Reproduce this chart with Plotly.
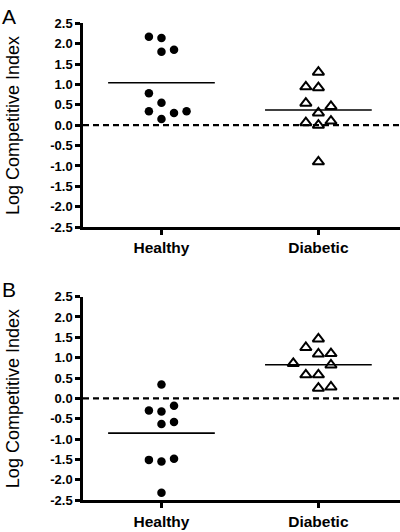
import plotly.graph_objects as go

categories = ["Healthy", "Diabetic"]
# Panel A
a_healthy = [2.17, 2.14, 1.80, 1.85, 0.78, 0.55, 0.34, 0.15, 0.30, 0.34]
a_healthy_off = [-1, 0, 0, 1, -1, 0, -1, 0, 1, 2]
a_diabetic = [1.30, 0.94, 0.92, 0.54, 0.46, 0.30, 0.06, 0.00, 0.10, -0.90]
a_diabetic_off = [0, -1, 0, -1, 1, 0, -1, 0, 1, 0]
# Panel B
b_healthy = [0.34, -0.30, -0.32, -0.18, -0.63, -0.58, -1.51, -1.55, -1.48, -2.32]
b_healthy_off = [0, -1, 0, 1, 0, 1, -1, 0, 1, 0]
b_diabetic = [1.46, 1.25, 1.09, 1.10, 0.86, 0.82, 0.58, 0.58, 0.25, 0.28]
b_diabetic_off = [0, -1, 0, 1, -2, 1, -1, 0, 0, 1]

y_tickvals = [2.5, 2.0, 1.5, 1.0, 0.5, 0.0, -0.5, -1.0, -1.5, -2.0, -2.5]
y_ticktext = ["2.5", "2.0", "1.5", "1.0", "0.5", "0.0", "-0.5", "-1.0", "-1.5", "-2.0", "-2.5"]
panel_labels = ["A", "B"]
y_title = "Log Competitive Index"

STEP = 0.08
HALF = 0.34
FONT = "Liberation Sans, Arial, sans-serif"

fig = go.Figure()

panels = [
    (a_healthy, a_healthy_off, a_diabetic, a_diabetic_off, "x", "y"),
    (b_healthy, b_healthy_off, b_diabetic, b_diabetic_off, "x2", "y2"),
]

for hv, ho, dv, do, xa, ya in panels:
    mh = sum(hv) / len(hv)
    md = sum(dv) / len(dv)
    fig.add_trace(go.Scatter(x=[-0.5, 1.52], y=[0, 0], mode="lines",
                             line=dict(color="black", width=2.2, dash="6px,4px"),
                             xaxis=xa, yaxis=ya, showlegend=False, hoverinfo="skip"))
    fig.add_trace(go.Scatter(x=[0 - HALF, 0 + HALF], y=[mh, mh], mode="lines",
                             line=dict(color="black", width=1.6),
                             xaxis=xa, yaxis=ya, showlegend=False))
    fig.add_trace(go.Scatter(x=[1 - HALF, 1 + HALF], y=[md, md], mode="lines",
                             line=dict(color="black", width=1.6),
                             xaxis=xa, yaxis=ya, showlegend=False))
    fig.add_trace(go.Scatter(x=[0 + o * STEP for o in ho], y=hv, mode="markers",
                             marker=dict(symbol="circle", size=8.5, color="black"),
                             xaxis=xa, yaxis=ya, showlegend=False))
    fig.add_trace(go.Scatter(x=[1 + o * STEP for o in do], y=dv, mode="markers",
                             marker=dict(symbol="triangle-up-open", size=10, color="black",
                                         line=dict(width=2, color="black")),
                             xaxis=xa, yaxis=ya, showlegend=False))

H = 532.0
W = 400.0
x_dom = [83 / W, 1.0]
dom_a = [1 - 226.5 / H, 1 - 16.7 / H]
dom_b = [1 - 507.5 / H, 1 - 298 / H]

xcommon = dict(range=[-0.5, 1.52], tickvals=[0, 1], ticktext=categories,
               showline=True, linecolor="black", linewidth=2.5,
               ticks="outside", ticklen=5, tickwidth=2.5, tickcolor="black",
               showgrid=False, zeroline=False, domain=x_dom,
               tickfont=dict(family=FONT, size=15.5, color="black", weight="bold"))
ycommon = dict(range=[-2.5, 2.5], tickvals=y_tickvals, ticktext=y_ticktext,
               showline=True, linecolor="black", linewidth=2.5,
               ticks="outside", ticklen=5, tickwidth=2.5, tickcolor="black",
               showgrid=False, zeroline=False,
               tickfont=dict(family=FONT, size=13, color="black", weight="bold"))

fig.update_layout(
    width=400, height=532,
    margin=dict(l=0, r=0, t=0, b=0),
    paper_bgcolor="white", plot_bgcolor="white",
    xaxis=dict(**xcommon, anchor="y"),
    yaxis=dict(**ycommon, domain=dom_a, anchor="x"),
    xaxis2=dict(**xcommon, anchor="y2"),
    yaxis2=dict(**ycommon, domain=dom_b, anchor="x2"),
    annotations=[
        dict(text=panel_labels[0], x=0 / W, y=1 - 10 / H, xref="paper", yref="paper",
             xanchor="left", yanchor="middle", showarrow=False,
             font=dict(family=FONT, size=21, color="black")),
        dict(text=panel_labels[1], x=0 / W, y=1 - 291 / H, xref="paper", yref="paper",
             xanchor="left", yanchor="middle", showarrow=False,
             font=dict(family=FONT, size=21, color="black")),
        dict(text=y_title, x=12.5 / W, y=1 - 122 / H, xref="paper", yref="paper",
             xanchor="center", yanchor="middle", textangle=-90, showarrow=False,
             font=dict(family=FONT, size=18, color="black")),
        dict(text=y_title, x=12.5 / W, y=1 - 403 / H, xref="paper", yref="paper",
             xanchor="center", yanchor="middle", textangle=-90, showarrow=False,
             font=dict(family=FONT, size=18, color="black")),
    ],
)

fig.write_html("out.html", config={"displayModeBar": False},
               post_script="document.body.style.margin='0';")
